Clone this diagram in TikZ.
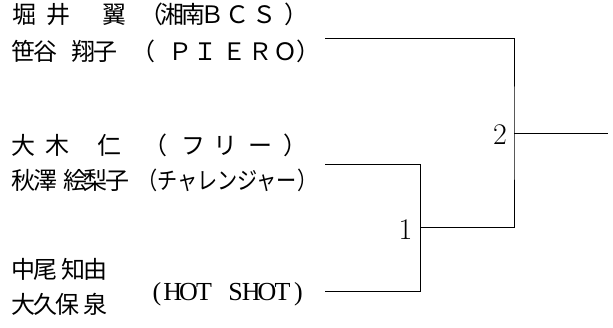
\documentclass[tikz,border=0pt]{standalone}
\usepackage{fontspec}
\usepackage{graphicx}
\newfontfamily\jp{Noto Sans CJK JP}
\newfontfamily\lat{Liberation Serif}
\newcommand\putc[2]{\rlap{\hspace*{#1pt}\makebox[0pt]{#2}}}
\newcommand\lpar[1]{\rlap{\hspace*{#1pt}\hspace*{-0.72em}（}}
\newcommand\rpar[1]{\rlap{\hspace*{#1pt}\hspace*{-0.28em}）}}
\newcommand\hcell[1]{\makebox[15.7pt][c]{#1}}
\begin{document}
\begin{tikzpicture}[x=1pt,y=-1pt,
  player/.style={anchor=base west, inner sep=0pt, font=\jp\fontsize{24}{24}\selectfont},
  team/.style={anchor=base west, inner sep=0pt, font=\lat\fontsize{26}{26}\selectfont},
  seed/.style={anchor=base east, inner sep=0pt, font=\fontsize{30}{30}\selectfont},
  wire/.style={line width=0.9pt, black}]
\useasboundingbox (0,0) rectangle (613,327);

% entries
\node[player] (p1) at (0,23.6) {\putc{24}{堀}\putc{58}{井}\putc{114}{翼}\lpar{156}\putc{172}{湘}\putc{193}{南}\putc{211.5}{Ｂ}\putc{236.5}{Ｃ}\putc{263.5}{Ｓ}\rpar{291}};
\node[player] (p2) at (0,60.1) {\putc{23}{笹}\putc{45}{谷}\putc{83}{翔}\putc{105}{子}\lpar{148}\putc{179.5}{Ｐ}\putc{205}{Ｉ}\putc{233.5}{Ｅ}\putc{260}{Ｒ}\putc{284.5}{Ｏ}\rpar{303}};
\node[player] (p3) at (0,154.6) {\putc{23}{大}\putc{57}{木}\putc{108.5}{仁}\lpar{160}\putc{192.5}{フ}\putc{225}{リ}\putc{260}{ー}\rpar{290}};
\node[player] (p4) at (0,189.6) {\putc{23}{秋}\putc{45}{澤}\putc{75}{絵}\putc{95}{梨}\putc{117}{子}\putc{226.5}{\scalebox{0.84}[1]{（チャレンジャー）}}};
\node[player] (p5) at (0,278.6) {\putc{23}{中}\putc{45}{尾}\putc{73}{知}\putc{95}{由}};
\node[player] (p6) at (0,313.6) {\putc{23}{大}\putc{45}{久}\putc{67}{保}\putc{95}{泉}};
\node[team] (t3) at (149,300.6) {\hcell{(}\hcell{H}\hcell{O}\hcell{T}\hcell{ }\hcell{S}\hcell{H}\hcell{O}\hcell{T}\hcell{)}};

% bracket
\coordinate (e1) at (325,38.5);
\coordinate (e2) at (325,164.5);
\coordinate (e3) at (325,291);
\coordinate (m1) at (420,227.75);
\coordinate (m2) at (514,133.1);
\coordinate (out) at (608,133.1);

\draw[wire] (e2) -| (m1);
\draw[wire] (e3) -| (m1);
\draw[wire] (e1) -| (m2) |- (m1);
\draw[wire] (m2) -- (out);

\node[seed] (s1) at (412.5,239) {1};
\node[seed] (s2) at (507,144) {2};
\end{tikzpicture}
\end{document}
